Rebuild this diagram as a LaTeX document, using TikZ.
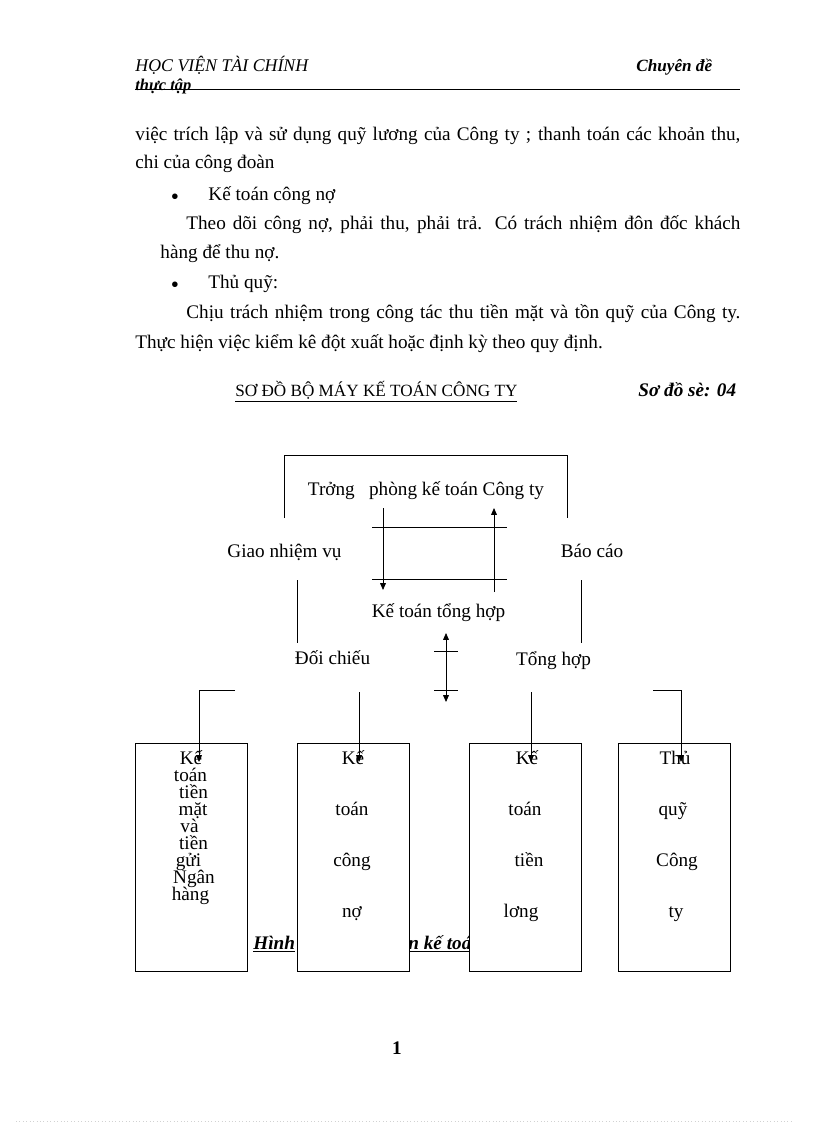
\documentclass[tikz,border=0pt]{standalone}
\usepackage{fontspec}
\setmainfont{Liberation Serif}
\usetikzlibrary{arrows.meta}
\tikzset{every picture/.style={line width=0.6pt}}
\tikzset{
  txt/.style={inner sep=0pt,anchor=base,font=\fontsize{14}{16}\selectfont},
  body/.style={inner sep=0pt,anchor=base west,font=\fontsize{14}{16}\selectfont},
  hdr/.style={inner sep=0pt,anchor=base west},
  bx/.style={draw,fill=white,inner sep=0pt,minimum width=81.7pt,minimum height=166.3pt},
  arr/.style={-{Triangle[length=5pt,width=4.2pt]}},
  darr/.style={{Triangle[length=5pt,width=4.2pt]}-{Triangle[length=5pt,width=4.2pt]}},
}

\begin{document}
\begin{tikzpicture}[x=0.7292pt,y=0.7292pt,yscale=-1,xscale=1]
\useasboundingbox (0,0) rectangle (816,1123);

% Text Node
\node[hdr,font=\fontsize{13}{15}\selectfont\itshape] (hv) at (135,72) {HỌC VIỆN TÀI CHÍNH};
% Text Node
\node[hdr,font=\fontsize{12.5}{15}\selectfont\bfseries\itshape] (cd) at (636,72) {Chuyên đề};
% Text Node
\node[hdr,font=\fontsize{12}{14}\selectfont\bfseries\itshape] (tt) at (135,91) {thực tập};
%Shape: Line
\coordinate (r1) at (135,89);
\coordinate (r2) at (740,89);
\draw[line width=0.5pt] (r1) -- (r2);

% Text Node
\node[body] (p1) at (135,141) {\makebox[441.2pt][s]{việc trích lập và sử dụng quỹ lương của Công ty ; thanh toán các khoản thu,}};
\node[body] (p2) at (135,169) {chi của công đoàn};
\node[txt,font=\fontsize{17}{18}\selectfont] (b1) at (175,205) {•};
\node[body] (p3) at (208,201) {Kế toán công nợ};
\node[body] (p4) at (186,230) {\makebox[404pt][s]{Theo dõi công nợ, phải thu, phải trả. Có trách nhiệm đôn đốc khách}};
\node[body] (p5) at (160,259) {hàng để thu nợ.};
\node[txt,font=\fontsize{17}{18}\selectfont] (b2) at (175,293) {•};
\node[body] (p6) at (208,289) {Thủ quỹ:};
\node[body] (p7) at (186,319) {\makebox[404pt][s]{Chịu trách nhiệm trong công tác thu tiền mặt và tồn quỹ của Công ty.}};
\node[body] (p8) at (135,348) {Thực hiện việc kiểm kê đột xuất hoặc định kỳ theo quy định.};

% Text Node
\node[hdr,font=\fontsize{12.5}{15}\selectfont] (title) at (235,397) {\underline{SƠ ĐỒ BỘ MÁY KẾ TOÁN CÔNG TY}};
\node[hdr,font=\fontsize{14}{16}\selectfont\bfseries\itshape] (sd) at (638,397) {Sơ đồ sè: 04};

%Shape: Bracket
\draw (284,518) -- (284,455) -- (567,455) -- (567,518);

% Text Node
\node[txt] (truong) at (426,495) {Trởng\ \ \ phòng kế toán Công ty};
\node[txt] (giao) at (284.5,557) {Giao nhiệm vụ};
\node[txt] (baocao) at (592,557) {Báo cáo};
\node[txt] (ktth) at (438.5,617) {Kế toán tổng hợp};
\node[txt] (doichieu) at (332.5,664) {Đối chiếu};
\node[txt] (tonghop) at (553.5,665) {Tổng hợp};

% Connection
\coordinate (d1) at (383,508);
\coordinate (d2) at (383,590);
\coordinate (u1) at (494,592);
\coordinate (u2) at (494,508);
\draw[arr] (d1) -- (d2);
\draw[arr] (u1) -- (u2);
\draw (372,527) -- (507,527);
\draw (372,579) -- (507,579);

%Shape: Line
\draw (297,580) -- (297,643);
\draw (581,580) -- (581,643);

% Connection
\coordinate (m1) at (446,633);
\coordinate (m2) at (446,702);
\draw[darr] (m1) -- (m2);
\draw (434,651) -- (458,651);
\draw (434,690) -- (458,690);

% Text Node
\node[hdr,font=\fontsize{14}{16}\selectfont\bfseries\itshape] (cap1) at (253,949) {\underline{Hình}};
\node[hdr,font=\fontsize{14}{16}\selectfont\bfseries\itshape] (cap2) at (408,949) {\underline{n kế toá}};

%Shape: Rectangle
\node[bx] (kt1) at (191.5,857) {};
\node[bx] (kt2) at (353,857) {};
\node[bx] (kt3) at (525.5,857) {};
\node[bx] (kt4) at (674,857) {};

% Text Node
\foreach \w/\x [count=\i] in {Kế/191,toán/190.5,tiền/193.5,mặt/193,và/189.5,tiền/193.5,gửi/188.5,Ngân/194,hàng/190.5}
  \node[txt] (w1\i) at (\x,{764+(\i-1)*17.1}) {\w};
\foreach \w/\x [count=\i] in {Kế/353,toán/352,công/352,nợ/352}
  \node[txt] (w2\i) at (\x,{764+(\i-1)*51.3}) {\w};
\foreach \w/\x [count=\i] in {Kế/527,toán/525,tiền/529,lơng/521}
  \node[txt] (w3\i) at (\x,{764+(\i-1)*51.3}) {\w};
\foreach \w/\x [count=\i] in {Thủ/675,quỹ/673,Công/677,ty/676}
  \node[txt] (w4\i) at (\x,{764+(\i-1)*51.3}) {\w};

% Connection
\coordinate (a0) at (235,690);
\coordinate (a1) at (199,690);
\coordinate (a2) at (199,762);
\draw[arr] (a0) -- (a1) -- (a2);
\coordinate (b0) at (359,692);
\coordinate (b1) at (359,762);
\draw[arr] (b0) -- (b1);
\coordinate (c0) at (531,692);
\coordinate (c1) at (531,762);
\draw[arr] (c0) -- (c1);
\coordinate (e0) at (653,690);
\coordinate (e1) at (681,690);
\coordinate (e2) at (681,762);
\draw[arr] (e0) -- (e1) -- (e2);

% Text Node
\node[txt,font=\fontsize{14}{16}\selectfont\bfseries] (pg) at (397,1054) {1};
\coordinate (f0) at (16,1121);
\coordinate (f1) at (792,1121);
\draw[gray!35,dotted,line width=0.5pt] (f0) -- (f1);

\end{tikzpicture}
\end{document}
